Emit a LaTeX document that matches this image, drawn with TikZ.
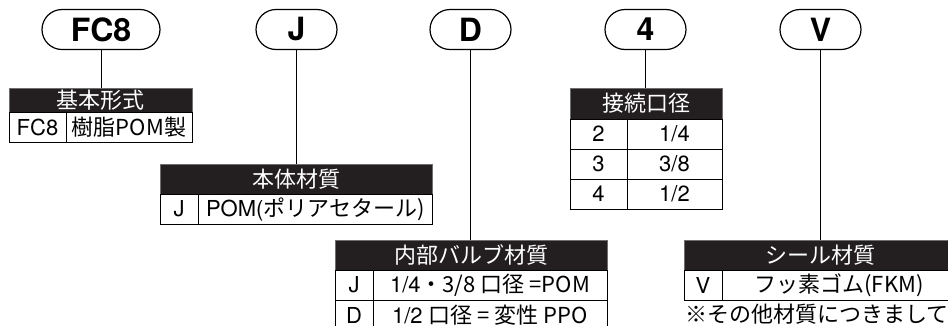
\documentclass[tikz,border=0pt]{standalone}
\usepackage{fontspec}
\setmainfont{TeX Gyre Heros}
\newfontfamily\jp{Noto Sans CJK JP}

\definecolor{headblack}{HTML}{231F20}
\definecolor{framegray}{HTML}{6E6E6E}

\tikzset{
	head/.style={draw=framegray, fill=headblack, text=white, line width=0.8pt, anchor=north west,
		inner sep=0pt, outer sep=0pt, font=\fontsize{22}{22}\selectfont\jp},
	cell/.style={draw=black, line width=0.9pt, anchor=north west, minimum height=30pt,
		inner sep=0pt, outer sep=0pt, font=\fontsize{22}{22}\selectfont},
}

\begin{document}
\begin{tikzpicture}[x=1pt, y=-1pt]
	\useasboundingbox (0,0) rectangle (948,325);

	%% The code ovals along the top
	\begin{scope}[every node/.style={draw, line width=1.2pt, rounded corners=20pt, minimum height=40pt,
			inner sep=0pt, outer sep=0pt, font=\fontsize{32}{32}\selectfont\bfseries}]
		\node[minimum width=118pt] at (101,29.5) (fc8) {FC8};
		%% Iterate over the other codes, storing the letter in \c
		\foreach \c/\x in {J/296.5, D/470.5, 4/645.5, V/820.5}{%
			\node[minimum width=81pt] at (\x,29.5) (code-\c) {\c};
		}
	\end{scope}

	%% Basic type
	\node[head, minimum width=183pt, minimum height=24pt] at (9,88) (kihon) {基本形式};
	\node[cell, minimum width=57pt] at (9,112) (kihon-k) {FC8};
	\node[cell, minimum width=126pt] at (66,112) (kihon-v) {\jp{樹脂}POM\jp{製}};

	%% Body material
	\node[head, minimum width=272.5pt, minimum height=30pt] at (160,164) (hontai) {本体材質};
	\node[cell, minimum width=38pt] at (160,194) (hontai-k) {J};
	\node[cell, minimum width=234.5pt] at (198,194) (hontai-v) {POM(\jp{ポリアセタール})};

	%% Inner valve material
	\node[head, minimum width=272pt, minimum height=30pt] at (335,240) (naibu) {内部バルブ材質};
	\node[cell, minimum width=38pt] at (335,270) (naibu-k1) {J};
	\node[cell, minimum width=234pt] at (373,270) (naibu-v1) {1/4\jp{・}3/8 \jp{口径} =POM};
	\node[cell, minimum width=38pt] at (335,300) (naibu-k2) {D};
	\node[cell, minimum width=234pt] at (373,300) (naibu-v2) {1/2 \jp{口径} = \jp{変性} PPO};

	%% Port size
	\node[head, minimum width=152pt, minimum height=31pt] at (570,88) (setsu) {接続口径};
	\foreach \k/\v [count=\r from 0] in {2/{1/4}, 3/{3/8}, 4/{1/2}}{%
		\node[cell, minimum width=57pt] at (570,{119+30*\r}) (setsu-k\k) {\k};
		\node[cell, minimum width=95pt] at (627,{119+30*\r}) (setsu-v\k) {\v};
	}

	%% Seal material
	\node[head, minimum width=272pt, minimum height=30pt] at (684,240) (seal) {シール材質};
	\node[cell, minimum width=38pt] at (684,270) (seal-k) {V};
	\node[cell, minimum width=234pt] at (722,270) (seal-v) {\jp{フッ素ゴム}(FKM)};
	\node[anchor=north west, inner sep=0pt, font=\fontsize{22}{22}\selectfont\jp] at (685,304) (note)
		{※その他材質につきましては};

	%% Leader lines from the ovals down to the tables
	\begin{scope}[line width=0.9pt]
		\draw (fc8.south) -- (fc8.south |- kihon.north);
		\draw (code-J.south) -- (code-J.south |- hontai.north);
		\draw (code-D.south) -- (code-D.south |- naibu.north);
		\draw (code-4.south) -- (code-4.south |- setsu.north);
		\draw (code-V.south) -- (code-V.south |- seal.north);
	\end{scope}

\end{tikzpicture}
\end{document}
